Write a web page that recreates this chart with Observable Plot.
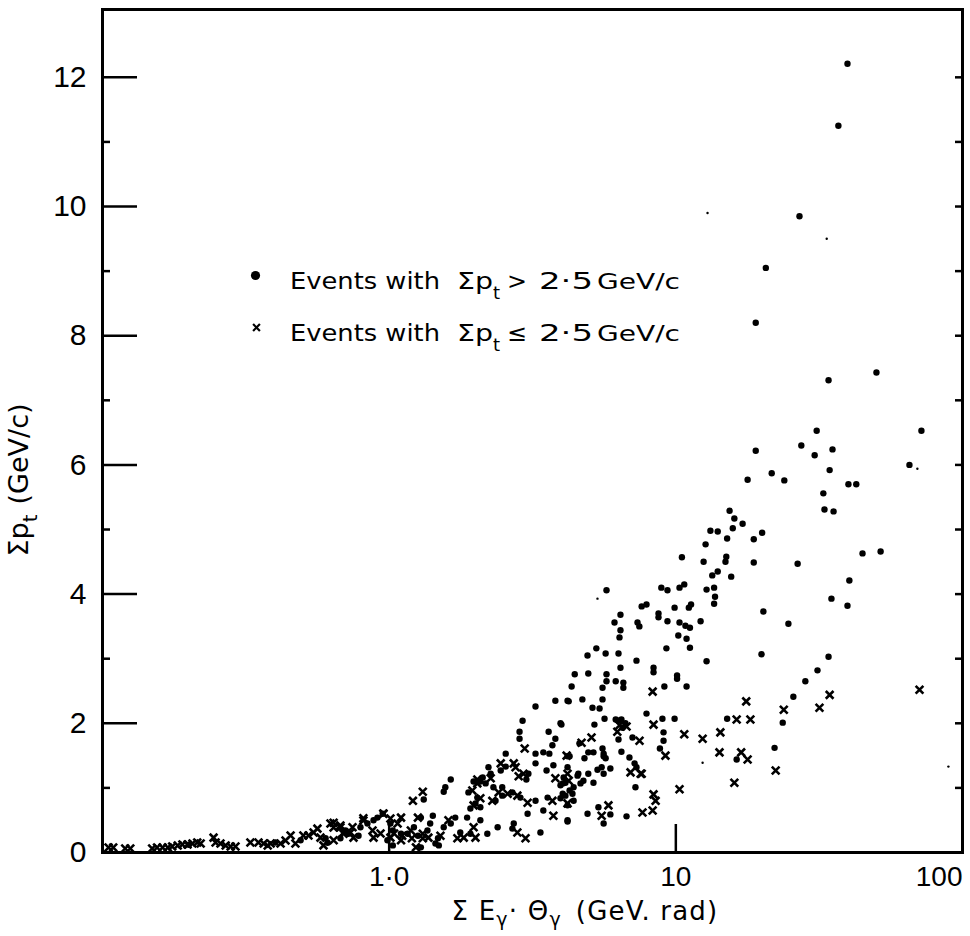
<!DOCTYPE html>
<html>
<head>
<meta charset="utf-8">
<script src="https://cdn.jsdelivr.net/npm/d3@7"></script>
<script src="https://cdn.jsdelivr.net/npm/@observablehq/plot@0.6"></script>
<style>
  html, body { margin: 0; padding: 0; background: #fff; }
  #chart svg { display: block; }
</style>
</head>
<body>
<div id="chart"></div>
<script>
// Events with Σpt > 2.5 GeV/c (dots): x = ΣEγ·θγ (GeV rad), y = Σpt (GeV/c)
const dotX = [
39.7,36.9,27.0,20.6,19.0,50.1,34.1,31.0,71.9,27.4,35.2,30.5,19.0,21.6,34.4,65.3,23.9,17.8,40.0,42.6,
32.7,33.0,35.5,15.4,16.0,17.1,15.8,13.2,14.0,20.0,18.7,15.1,12.7,44.8,51.8,15.0,14.9,18.7,10.5,12.5,
26.6,13.4,14.0,15.6,40.3,8.9,9.35,10.3,10.7,12.8,13.6,13.7,34.9,13.6,9.9,11.1,11.3,7.9,7.6,39.7,
20.2,8.7,8.7,24.7,9.35,10.3,10.8,11.2,12.2,10.2,10.9,9.27,11.2,19.9,34.1,12.8,31.2,28.3,25.7,23.6,
22.1,10.9,10.1,10.1,9.12,8.36,8.36,15.1,9.9,8.98,7.9,9.06,9.06,8.8,16.3,
5.73,6.41,6.11,6.41,6.36,7.35,7.46,4.92,5.28,5.69,6.31,7.29,6.41,4.44,4.95,5.73,4.33,5.55,5.73,6.17,
6.56,6.56,4.23,4.72,5.12,5.42,5.55,3.99,5.2,5.64,6.17,6.46,6.31,6.52,6.67,7.06,6.31,5.55,5.6,5.6,
5.16,4.95,4.8,6.46,6.89,7.18,7.29,5.69,5.51,5.33,5.6,5.91,4.19,4.26,4.19,4.06,4.12,4.54,4.76,4.95,
5.16,4.65,4.03,4.12,4.19,4.26,7.23,5.37,5.91,5.6,6.73,4.19,4.92,
2.92,2.85,2.85,3.6,3.96,3.8,3.71,3.24,3.8,4.19,2.55,3.24,3.45,3.62,4.61,3.24,3.54,3.74,3.06,3.01,
2.55,2.45,1.64,1.57,1.55,1.32,1.97,2.08,2.17,2.22,2.26,2.31,2.48,1.89,2.03,2.0,2.08,2.35,2.48,2.69,
2.87,3.24,3.57,3.96,4.40,4.36,3.96,4.03,4.40,4.57,3.45,4.19,3.37,3.04,2.72,2.39,2.69,2.2,1.92,2.08,
1.87,1.92,1.70,1.64,1.55,1.48,1.45,1.39,1.36,1.22,1.26,1.16,1.29,1.42,1.01,1.03,0.986,1.03,1.1,1.49,
1.29,1.77,2.12,
0.949,0.882,0.794,0.721,0.676,0.61,0.704,0.840,0.910,0.782,0.600,0.491,0.401,0.20
];
const dotY = [
12.21,11.25,9.85,9.05,8.2,7.43,7.31,6.53,6.53,6.30,6.24,6.15,6.22,5.87,5.92,6.0,5.76,5.77,5.70,5.70,
5.56,5.31,5.28,5.29,5.17,5.09,5.02,4.98,4.97,4.95,4.85,4.86,4.77,4.63,4.66,4.58,4.50,4.49,4.57,4.50,
4.47,4.29,4.35,4.27,4.21,4.10,4.06,4.10,4.15,4.07,4.10,3.96,3.93,3.85,3.79,3.79,3.84,3.84,3.81,3.82,
3.73,3.70,3.64,3.54,3.58,3.56,3.51,3.48,3.58,3.36,3.31,3.16,3.17,3.07,3.03,2.96,2.82,2.65,2.41,2.01,
1.62,2.57,2.74,2.69,2.57,2.86,2.79,2.07,2.07,2.07,2.15,1.86,1.73,1.61,1.44,
4.06,3.68,3.56,3.44,3.33,3.56,3.50,3.05,3.16,3.08,3.08,2.97,2.86,2.76,2.77,2.76,2.57,2.55,2.65,2.65,
2.63,2.55,2.34,2.37,2.24,2.23,2.37,1.98,1.98,2.07,2.06,2.06,2.04,1.93,2.0,1.78,1.75,1.61,1.53,1.49,
1.55,1.55,1.46,1.56,1.47,1.38,1.32,1.46,1.32,1.28,1.22,1.30,1.49,1.49,1.32,1.16,1.08,1.19,1.11,1.22,
1.08,1.07,0.91,0.88,0.73,0.96,1.01,0.70,0.59,0.45,0.56,0.48,0.60,
2.04,1.87,1.76,1.87,2.0,1.76,1.66,2.26,2.35,2.35,1.53,1.53,1.55,1.53,1.69,1.38,1.27,1.35,1.22,1.13,
1.33,1.27,1.13,1.01,0.94,0.82,1.10,1.10,1.07,1.32,1.22,1.01,1.01,0.93,0.85,0.76,0.70,0.80,0.88,0.93,
0.85,0.80,0.85,0.84,0.80,0.91,1.04,1.07,1.01,1.22,0.65,0.50,0.31,0.60,0.45,0.39,0.37,0.29,0.29,0.50,
0.54,0.68,0.54,0.45,0.39,0.22,0.14,0.45,0.34,0.39,0.26,0.29,0.54,0.57,0.45,0.34,0.19,0.11,0.29,0.11,
0.08,0.31,1.16,
0.60,0.50,0.39,0.29,0.22,0.15,0.34,0.45,0.54,0.26,0.22,0.19,0.155,0.12
];

// Events with Σpt ≤ 2.5 GeV/c (crosses)
const crossX = [
34.4,70.8,23.8,31.7,22.3,17.6,16.3,18.2,14.3,14.2,16.9,17.8,16.0,12.4,10.7,8.36,9.2,10.3,8.36,8.5,
8.3,7.65,7.6,8.3,6.36,6.73,6.25,7.47,4.69,5.08,6.95,7.54,5.82,5.51,2.97,4.16,2.76,1.31,1.21,2.29,
2.99,2.45,2.03,1.1,1.26,0.955,1.31,1.82,2.0,2.72,4.19,3.71,3.04,4.19,3.8,4.23,2.41,2.8,2.59,2.94,
2.83,2.26,2.03,1.95,2.08,1.97,1.97,1.61,1.51,1.37,1.31,1.19,1.2,1.11,1.01,1.1,1.24,1.73,2.8,3.74,
0.64,0.676,0.693,0.813,0.745,0.693,0.64,0.59,
0.105,0.109,0.120,0.125,0.149,0.155,0.162,0.169,0.175,0.183,0.19,0.198,0.206,0.214,0.22,0.244,0.248,0.258,0.269,0.28,
0.291,0.328,0.350,0.365,0.377,0.386,0.418,0.435,0.453,0.471,0.502,0.523,0.545,0.562,0.576,0.624,0.640,0.676,0.733,0.751,
0.813,0.875,0.955,1.01,1.07,1.04,0.933,0.882
];
const crossY = [
2.44,2.52,2.21,2.24,1.27,2.34,2.06,2.06,1.86,1.55,1.55,1.44,1.08,1.76,1.83,1.98,1.50,0.98,0.90,0.80,
0.65,0.62,1.22,2.49,1.97,1.95,1.87,1.73,1.70,1.78,1.24,1.22,0.73,0.57,1.61,1.50,1.32,0.94,0.80,0.80,
0.22,1.38,1.13,0.54,0.54,0.60,0.22,0.23,0.23,1.38,1.22,0.80,0.77,0.76,1.15,1.11,0.93,0.88,0.91,1.22,
1.18,1.15,1.07,0.96,0.84,0.39,0.73,0.50,0.26,0.23,0.29,0.34,0.22,0.26,0.23,0.19,0.08,0.22,0.31,0.57,
0.46,0.39,0.31,0.53,0.39,0.29,0.19,0.11,
0.077,0.077,0.062,0.062,0.062,0.077,0.077,0.077,0.093,0.108,0.124,0.124,0.139,0.155,0.139,0.23,0.155,0.139,0.108,0.093,
0.093,0.155,0.155,0.139,0.108,0.139,0.139,0.186,0.263,0.139,0.263,0.263,0.31,0.37,0.23,0.449,0.387,0.418,0.31,0.23,
0.495,0.34,0.604,0.526,0.449,0.294,0.294,0.23
];

// faint small specks
const speckX = [33.6, 69.6, 89.3, 12.4, 5.33, 12.9];
const speckY = [9.5, 5.94, 1.33, 1.39, 3.93, 9.9];

const yMajor = [0, 2, 4, 6, 8, 10, 12];
const yMinor = [1, 3, 5, 7, 9, 11];
const yRight = [1, 2, 3, 4, 5, 6, 7, 8, 9, 10, 11, 12];
const xTicks = [1, 10];
const xTickLabels = ["1·0", "10"];
const xEnd = [100];

const dots = dotX.map((x, i) => ({x, y: dotY[i]}));
const crosses = crossX.map((x, i) => ({x, y: crossY[i]}));
const specks = speckX.map((x, i) => ({x, y: speckY[i]}));

const numFont = "Liberation Sans, DejaVu Sans, sans-serif";

const plot = Plot.plot({
  width: 970,
  height: 936,
  marginLeft: 102,
  marginRight: 8,
  marginTop: 9,
  marginBottom: 84,
  style: {background: "white", color: "black", fontFamily: numFont},
  x: {type: "log", domain: [0.1, 100]},
  y: {domain: [0, 13.05]},
  marks: [
    Plot.axisY(yMajor, {anchor: "left", tickSize: -35, tickPadding: 51, strokeWidth: 2.5, fontSize: 30,
      tickFormat: d => String(d), label: null}),
    Plot.axisY(yMinor, {anchor: "left", tickSize: -8, strokeWidth: 2.5, tickFormat: () => "", label: null}),
    Plot.axisY(yRight, {anchor: "right", tickSize: -8, strokeWidth: 2.5, tickFormat: () => "", label: null}),
    Plot.axisX(xTicks, {anchor: "bottom", tickSize: -28, tickPadding: 42, strokeWidth: 2.5, fontSize: 28,
      tickFormat: d => xTickLabels[xTicks.indexOf(d)], label: null}),
    Plot.axisX(xEnd, {anchor: "bottom", tickSize: 0, tickPadding: 14, fontSize: 28, textAnchor: "end",
      tickFormat: d => String(d), label: null}),
    Plot.frame({stroke: "black", strokeWidth: 3}),
    Plot.dot(dots, {x: "x", y: "y", r: 3.2, fill: "black", stroke: "none"}),
    Plot.dot(crosses, {x: "x", y: "y", symbol: "times", r: 3.6, stroke: "black", strokeWidth: 2.6}),
    Plot.dot(specks, {x: "x", y: "y", r: 1.2, fill: "black", stroke: "none"}),
    // legend symbols
    Plot.dot([0], {frameAnchor: "top-left", dx: 153, dy: 266, r: 4.6, fill: "black", stroke: "none"}),
    Plot.dot([0], {frameAnchor: "top-left", dx: 154, dy: 318, symbol: "times", r: 3.2, stroke: "black", strokeWidth: 2.2})
  ]
});

document.getElementById("chart").appendChild(plot);

// Legend text and axis titles
const svg = d3.select(plot);
const textFont = "DejaVu Sans, sans-serif";

function seg(x, y, str, size, len) {
  const t = svg.append("text")
    .attr("font-family", textFont)
    .attr("font-size", size)
    .attr("fill", "black")
    .attr("text-anchor", "start")
    .attr("x", x).attr("y", y)
    .text(str);
  if (len) t.attr("textLength", len).attr("lengthAdjust", "spacingAndGlyphs");
  return t;
}
function legendLine(baseY, rel) {
  seg(290, baseY, "Events with", 23, 150);
  seg(457, baseY, "Σp", 23, 36);
  seg(493, baseY + 10, "t", 18);
  seg(507, baseY, rel, 23, 20);
  seg(539, baseY, "2·5", 23, 54);
  seg(597, baseY, "GeV/c", 22, 83);
}
legendLine(289, ">");
legendLine(341, "≤");

// y-axis title
const yt = svg.append("text")
  .attr("font-family", textFont)
  .attr("font-size", 27)
  .attr("fill", "black")
  .attr("text-anchor", "middle")
  .attr("transform", "translate(28,480) rotate(-90)");
yt.append("tspan").text("Σp");
yt.append("tspan").attr("dy", 9).attr("font-size", 20).text("t");
yt.append("tspan").attr("dy", -9).attr("dx", 10).text("(GeV/c)");

// x-axis title
const xt = svg.append("text")
  .attr("font-family", textFont)
  .attr("font-size", 26)
  .attr("fill", "black")
  .attr("text-anchor", "middle")
  .attr("letter-spacing", 1.2)
  .attr("x", 585)
  .attr("y", 920);
xt.append("tspan").text("Σ E");
xt.append("tspan").attr("dy", 6).attr("font-size", 19).text("γ");
xt.append("tspan").attr("dy", -6).text("· Θ");
xt.append("tspan").attr("dy", 6).attr("font-size", 19).text("γ");
xt.append("tspan").attr("dy", -6).attr("dx", 14).text("(GeV. rad)");
</script>
</body>
</html>
